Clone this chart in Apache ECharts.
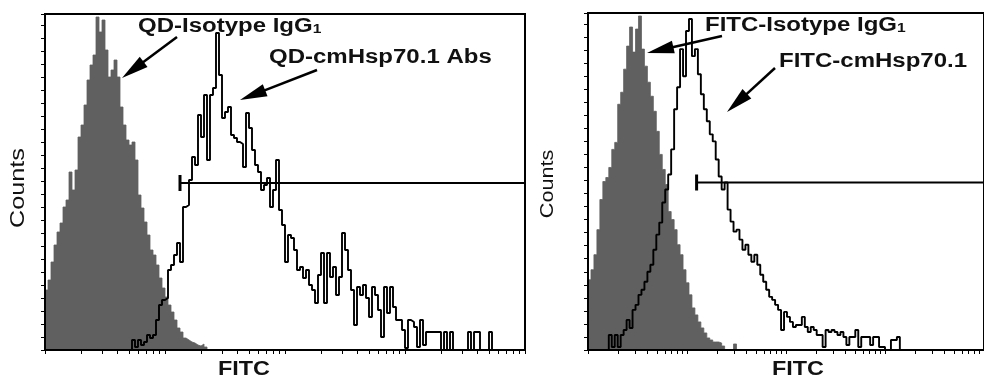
<!DOCTYPE html>
<html>
<head>
<meta charset="utf-8">
<script src="https://cdn.jsdelivr.net/npm/echarts@6/dist/echarts.min.js"></script>
<style>html,body{margin:0;padding:0;background:#fff}#c{width:984px;height:376px}</style>
</head>
<body>
<div id="c"></div>
<script>
// ---- data (x in decades of FITC fluorescence, y in counts per channel) ----
const leftChannelStep = 0.025;   // decades per channel, left panel
const rightChannelStep = 0.03;   // decades per channel, right panel

const qdIsotypeStart = 0;
const qdIsotypeCounts = [60,70,88,105,118,127,143,150,178,160,180,213,225,245,270,285,295,333,318,330,300,273,280,290,273,243,225,210,205,208,190,155,142,128,115,100,95,85,72,62,53,45,38,30,22,18,12,10,8,7,5,4,6,3,0];

const qdAbsStart = 0.7;
const qdAbsCounts = [0,10,3,10,5,8,15,12,15,30,45,50,52,80,85,95,107,88,143,145,170,193,185,235,213,255,190,255,262,317,275,232,238,243,215,212,208,206,183,237,222,200,185,178,160,165,172,143,160,190,140,125,88,115,112,100,80,83,72,80,65,60,47,75,97,47,97,73,83,55,73,117,100,80,60,25,63,55,65,52,33,63,55,40,13,63,37,63,43,30,30,20,2,30,28,23,3,30,5,18,18,18,18,18,0,18,0,18,0,0,0,0,0,18,0,18,18,0,0,0,18,0];

const fitcIsotypeStart = 0;
const fitcIsotypeCounts = [70,80,95,120,150,168,172,182,200,207,245,257,280,303,322,297,320,333,300,283,267,253,238,218,195,180,165,138,130,120,105,95,80,67,55,42,35,28,22,17,12,10,8,8,7,4,0,0,0,6,0];

const fitcAbsStart = 0.18;
const fitcAbsCounts = [0,15,3,15,3,15,20,30,22,40,45,55,60,68,78,85,100,115,127,147,160,175,200,240,262,300,273,318,330,293,300,275,255,240,228,215,208,190,173,160,167,140,128,118,120,110,100,105,95,88,95,85,75,68,60,53,50,45,40,20,38,33,28,23,25,25,33,23,18,23,20,15,15,3,20,18,20,18,15,18,13,5,13,13,20,3,13,13,13,5,13,13,3,3,0,0,10,10,13,0];

const leftMarkerX = [1.125, 4];
const rightMarkerX = [1.097, 4];
const markerCount = 167;

const countsMax = 336;
const countsTick = 13;
const decades = 4;

// ---- helpers ----
function toXY(start, step, counts) {
  return counts.map((c, i) => [start + i * step, c]);
}
const xTickVals = [];
for (let d = 0; d < decades; d++) for (let k = 1; k <= 9; k++) xTickVals.push(d + Math.log10(k));
xTickVals.push(decades);

function xAxisCfg(g) {
  return {
    gridIndex: g, type: 'value', min: 0, max: decades, z: 10,
    axisLine: { show: true, onZero: false, lineStyle: { color: '#000', width: 2 } },
    axisTick: { show: true, inside: false, length: 4, customValues: xTickVals, lineStyle: { color: '#000', width: 1 } },
    axisLabel: { show: false }, splitLine: { show: false }
  };
}
function yAxisCfg(g) {
  return {
    gridIndex: g, type: 'value', min: 0, max: countsMax, interval: countsTick, z: 10,
    axisLine: { show: true, lineStyle: { color: '#000', width: 2 } },
    axisTick: { show: true, inside: false, length: 4, lineStyle: { color: '#000', width: 1 } },
    axisLabel: { show: false }, splitLine: { show: false }
  };
}
const grey = '#606060';
function isoSeries(g, data) {
  return { type: 'line', xAxisIndex: g, yAxisIndex: g, step: 'end', data: data, showSymbol: false,
    lineStyle: { color: grey, width: 0.8 }, areaStyle: { color: grey, opacity: 1 }, z: 2 };
}
function absSeries(g, data) {
  return { type: 'line', xAxisIndex: g, yAxisIndex: g, step: 'end', data: data, showSymbol: false,
    lineStyle: { color: '#000', width: 1.9 }, z: 3 };
}
function markerSeries(g, xs) {
  return { type: 'line', xAxisIndex: g, yAxisIndex: g, z: 4,
    data: [ { value: [xs[0], markerCount], symbol: 'rect', symbolSize: [3, 16] },
            { value: [xs[1], markerCount], symbol: 'none' } ],
    showSymbol: true, itemStyle: { color: '#000' }, lineStyle: { color: '#000', width: 2 } };
}

// annotation arrows
function arrow(x1, y1, x2, y2) {
  const L = 27, W = 13;
  const dx = x2 - x1, dy = y2 - y1, len = Math.hypot(dx, dy);
  const ux = dx / len, uy = dy / len;
  const bx = x2 - ux * L, by = y2 - uy * L;
  const px = -uy * W / 2, py = ux * W / 2;
  return [
    { type: 'line', shape: { x1: x1, y1: y1, x2: bx + ux * 2, y2: by + uy * 2 }, style: { stroke: '#000', lineWidth: 2.5 }, z: 20 },
    { type: 'polygon', shape: { points: [[x2, y2], [bx + px, by + py], [bx - px, by - py]] }, style: { fill: '#000' }, z: 20 }
  ];
}
const font = 'Liberation Sans, Arial, sans-serif';
function label(x, y, txt, opts) {
  return Object.assign({ type: 'text', x: x, y: y, z: 20, scaleX: 1.2,
    style: { text: txt, fontFamily: font, fontSize: 20, fontWeight: 'bold', fill: '#111', align: 'left', verticalAlign: 'middle' } }, opts || {});
}
function subLabel(x, y, main, sub) {
  return { type: 'text', x: x, y: y, z: 20, scaleX: 1.2,
    style: { text: '{a|' + main + '}{s|' + sub + '}', align: 'left', verticalAlign: 'middle', fill: '#111',
      rich: {
        a: { fontFamily: font, fontSize: 20, fontWeight: 'bold', fill: '#111', color: '#111', verticalAlign: 'bottom' },
        s: { fontFamily: font, fontSize: 13, fontWeight: 'bold', fill: '#111', color: '#111', verticalAlign: 'bottom' }
      } } };
}

const graphics = [].concat(
  arrow(177, 37, 122, 78),
  arrow(317, 70, 240, 100),
  arrow(722, 36, 647, 53),
  arrow(775, 68, 727, 112),
  [
    subLabel(138, 26, 'QD-Isotype IgG', '1'),
    label(269, 57, 'QD-cmHsp70.1 Abs'),
    subLabel(705, 25, 'FITC-Isotype IgG', '1'),
    label(779, 61, 'FITC-cmHsp70.1'),
    { type: 'text', x: 244, y: 369, z: 20, scaleX: 1.17, style: { text: 'FITC', fontFamily: font, fontSize: 20, fontWeight: 'bold', fill: '#111', align: 'center', verticalAlign: 'middle' } },
    { type: 'text', x: 798, y: 369, z: 20, scaleX: 1.17, style: { text: 'FITC', fontFamily: font, fontSize: 20, fontWeight: 'bold', fill: '#111', align: 'center', verticalAlign: 'middle' } },
    { type: 'text', x: 18, y: 188, z: 20, rotation: Math.PI / 2, scaleX: 1.2, style: { text: 'Counts', fontFamily: font, fontSize: 21, fill: '#111', align: 'center', verticalAlign: 'middle' } },
    { type: 'text', x: 548, y: 184, z: 20, rotation: Math.PI / 2, scaleX: 1.2, style: { text: 'Counts', fontFamily: font, fontSize: 18, fill: '#111', align: 'center', verticalAlign: 'middle' } }
  ]
);

const chart = echarts.init(document.getElementById('c'), null, { renderer: 'canvas' });
chart.setOption({
  animation: false,
  backgroundColor: '#fff',
  grid: [
    { left: 45, top: 14, width: 480, height: 336, show: true, borderColor: '#000', borderWidth: 2 },
    { left: 588, top: 13, width: 412, height: 337, show: true, borderColor: '#000', borderWidth: 2 }
  ],
  xAxis: [xAxisCfg(0), xAxisCfg(1)],
  yAxis: [yAxisCfg(0), yAxisCfg(1)],
  series: [
    isoSeries(0, toXY(qdIsotypeStart, leftChannelStep, qdIsotypeCounts)),
    absSeries(0, toXY(qdAbsStart, leftChannelStep, qdAbsCounts)),
    markerSeries(0, leftMarkerX),
    isoSeries(1, toXY(fitcIsotypeStart, rightChannelStep, fitcIsotypeCounts)),
    absSeries(1, toXY(fitcAbsStart, rightChannelStep, fitcAbsCounts)),
    markerSeries(1, rightMarkerX)
  ],
  graphic: graphics
});
</script>
</body>
</html>
